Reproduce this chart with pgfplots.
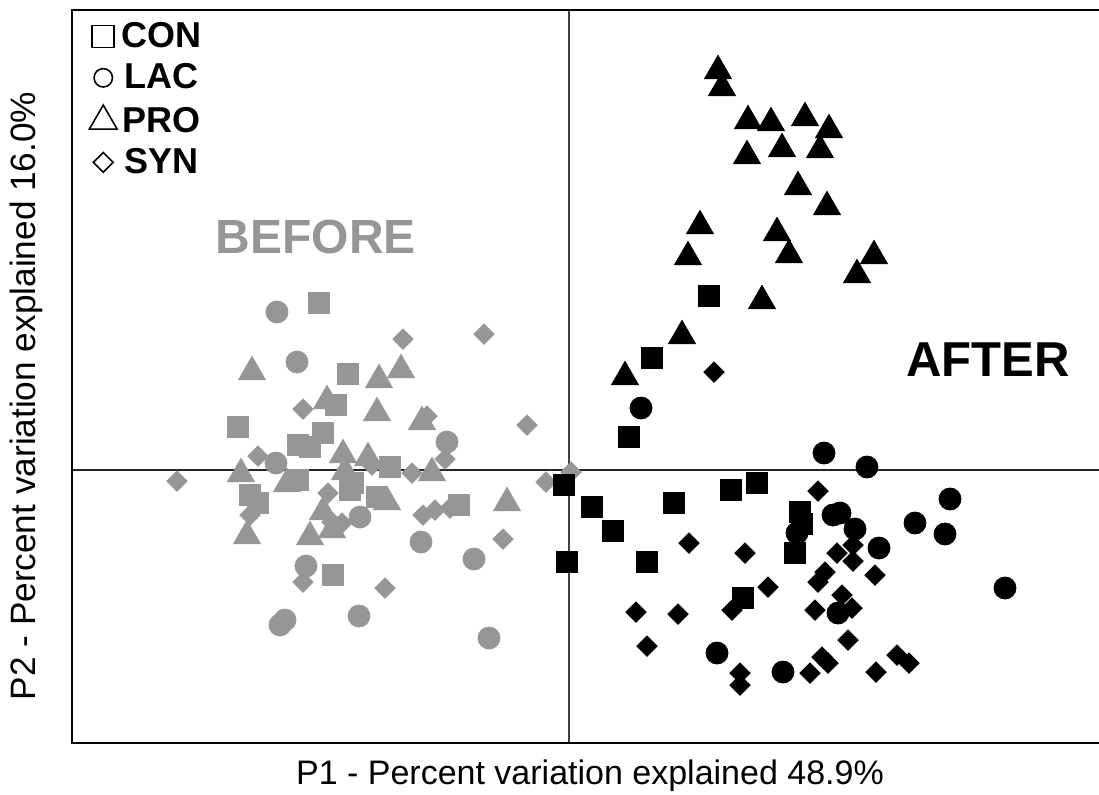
\documentclass[border=0pt]{standalone}
\usepackage{pgfplots}
\pgfplotsset{compat=1.18}
\usepackage{fontspec}
\setmainfont{Liberation Sans}

\definecolor{before}{RGB}{150,150,150}

% marker styles, sizes (1 px = 0.5 pt)
\pgfplotsset{
  con/.style={only marks, mark=square*, mark size=5.25pt},
  lac/.style={only marks, mark=*, mark size=5.5pt},
  pro/.style={only marks, mark=triangle*, mark size=7.8pt},
  syn/.style={only marks, mark=square*, mark size=3.6pt, mark options={rotate=45}},
}

\begin{document}
\begin{tikzpicture}
\begin{axis}[
    scale only axis,
    width=513.5pt, height=366.5pt,
    xmin=72, xmax=1099, ymin=10, ymax=743,
    y dir=reverse,
    hide axis,
    clip=false,
    legend image code/.code={\draw[#1] plot coordinates {(0pt,0pt)};},
    legend style={draw=none, fill=none, at={(axis cs:83,18)}, anchor=north west,
        font=\fontsize{18}{20}\selectfont\bfseries,
        nodes={inner sep=0pt}, row sep=6.6pt, column sep=2pt,
        column 1/.style={anchor=center}, column 2/.style={anchor=west}},
]
% frame (no right edge in the original) and the two zero lines
\draw[black!75, line width=0.6pt] (axis cs:569,10) -- (axis cs:569,743);
\draw[black!85, line width=0.6pt] (axis cs:72,470) -- (axis cs:1099,470);
\draw[line width=1pt] (axis cs:1099,10) -- (axis cs:72,10) -- (axis cs:72,743) -- (axis cs:1099,743);

% ---- BEFORE (grey) ----
\addplot[con, color=before, forget plot] coordinates {
  (319,303) (348,374) (336,405) (238,427) (298,445) (310,447) (323,433)
  (298,480) (250,495) (258,503) (350,490) (353,483) (390,467) (377,497)
  (459,505) (333,575)
};
\addplot[lac, color=before, forget plot] coordinates {
  (277,312) (297,362) (447,442) (276,463) (360,517) (421,542) (474,559)
  (306,566) (285,620) (280,625) (359,616) (489,638)
};
\addplot[pro, color=before, forget plot] coordinates {
  (252,372) (327,401) (379,380) (401,370) (377,413) (422,422) (241,474)
  (287,484) (247,536) (343,455) (345,472) (368,458) (432,473) (323,512)
  (310,537) (332,530) (387,502) (507,503)
};
\addplot[syn, color=before, forget plot] coordinates {
  (303,409) (403,339) (484,334) (427,416) (527,425) (445,459) (258,456)
  (177,481) (250,515) (328,493) (332,522) (342,523) (372,465) (412,473)
  (423,515) (435,510) (450,508) (503,539) (303,582) (385,588) (546,482)
  (571,472)
};

% ---- AFTER (black) ----
\addplot[con, color=black, forget plot] coordinates {
  (709,296) (652,358) (629,437) (564,485) (592,507) (613,531) (674,503)
  (731,490) (757,483) (800,512) (802,524) (795,553) (567,562) (647,562)
  (743,598)
};
\addplot[lac, color=black, forget plot] coordinates {
  (641,408) (824,453) (867,467) (797,533) (833,515) (840,513) (855,529)
  (879,548) (950,499) (915,523) (945,534) (1005,588) (838,613) (717,653)
  (783,672)
};
\addplot[pro, color=black, forget plot] coordinates {
  (718,71) (722,88) (748,121) (771,123) (805,118) (829,130) (747,156)
  (782,149) (820,150) (798,187) (827,207) (700,226) (777,233) (789,255)
  (688,257) (874,256) (857,275) (762,301) (682,336) (625,377)
};
\addplot[syn, color=black, forget plot] coordinates {
  (714,372) (818,491) (689,543) (745,553) (853,545) (837,553) (853,561)
  (875,575) (825,572) (818,582) (768,587) (842,595) (852,608) (815,610)
  (732,610) (636,612) (678,614) (848,640) (647,646) (822,657) (828,663)
  (810,673) (740,673) (740,685) (876,672) (897,655) (909,663)
};

% legend: open markers
\addlegendimage{mark=square, mark size=5.5pt, black, line width=0.8pt}
\addlegendentry{CON}
\addlegendimage{mark=o, mark size=4.6pt, black, line width=0.8pt}
\addlegendentry{LAC}
\addlegendimage{mark=triangle, mark size=8pt, black, line width=0.8pt}
\addlegendentry{PRO}
\addlegendimage{mark=square, mark size=3.5pt, mark options={rotate=45}, black, line width=0.8pt}
\addlegendentry{SYN}

\node[anchor=center, inner sep=0pt, text=before, font=\fontsize{24}{28}\selectfont\bfseries]
  at (axis cs:316,237) {BEFORE};
\node[anchor=center, inner sep=0pt, font=\fontsize{24.5}{28}\selectfont\bfseries]
  at (axis cs:988,360) {AFTER};

\node[anchor=center, inner sep=0pt, font=\fontsize{17}{20}\selectfont]
  at (axis cs:590,776) {P1 - Percent variation explained 48.9\%};
\node[anchor=center, inner sep=0pt, rotate=90, font=\fontsize{17.6}{20}\selectfont]
  at (axis cs:26,396) {P2 - Percent variation explained 16.0\%};

\coordinate (BL) at (axis cs:0,794);
\coordinate (TR) at (axis cs:1099,0);
\end{axis}
\pgfresetboundingbox
\path[use as bounding box] (BL) rectangle (TR);
\end{tikzpicture}
\end{document}
